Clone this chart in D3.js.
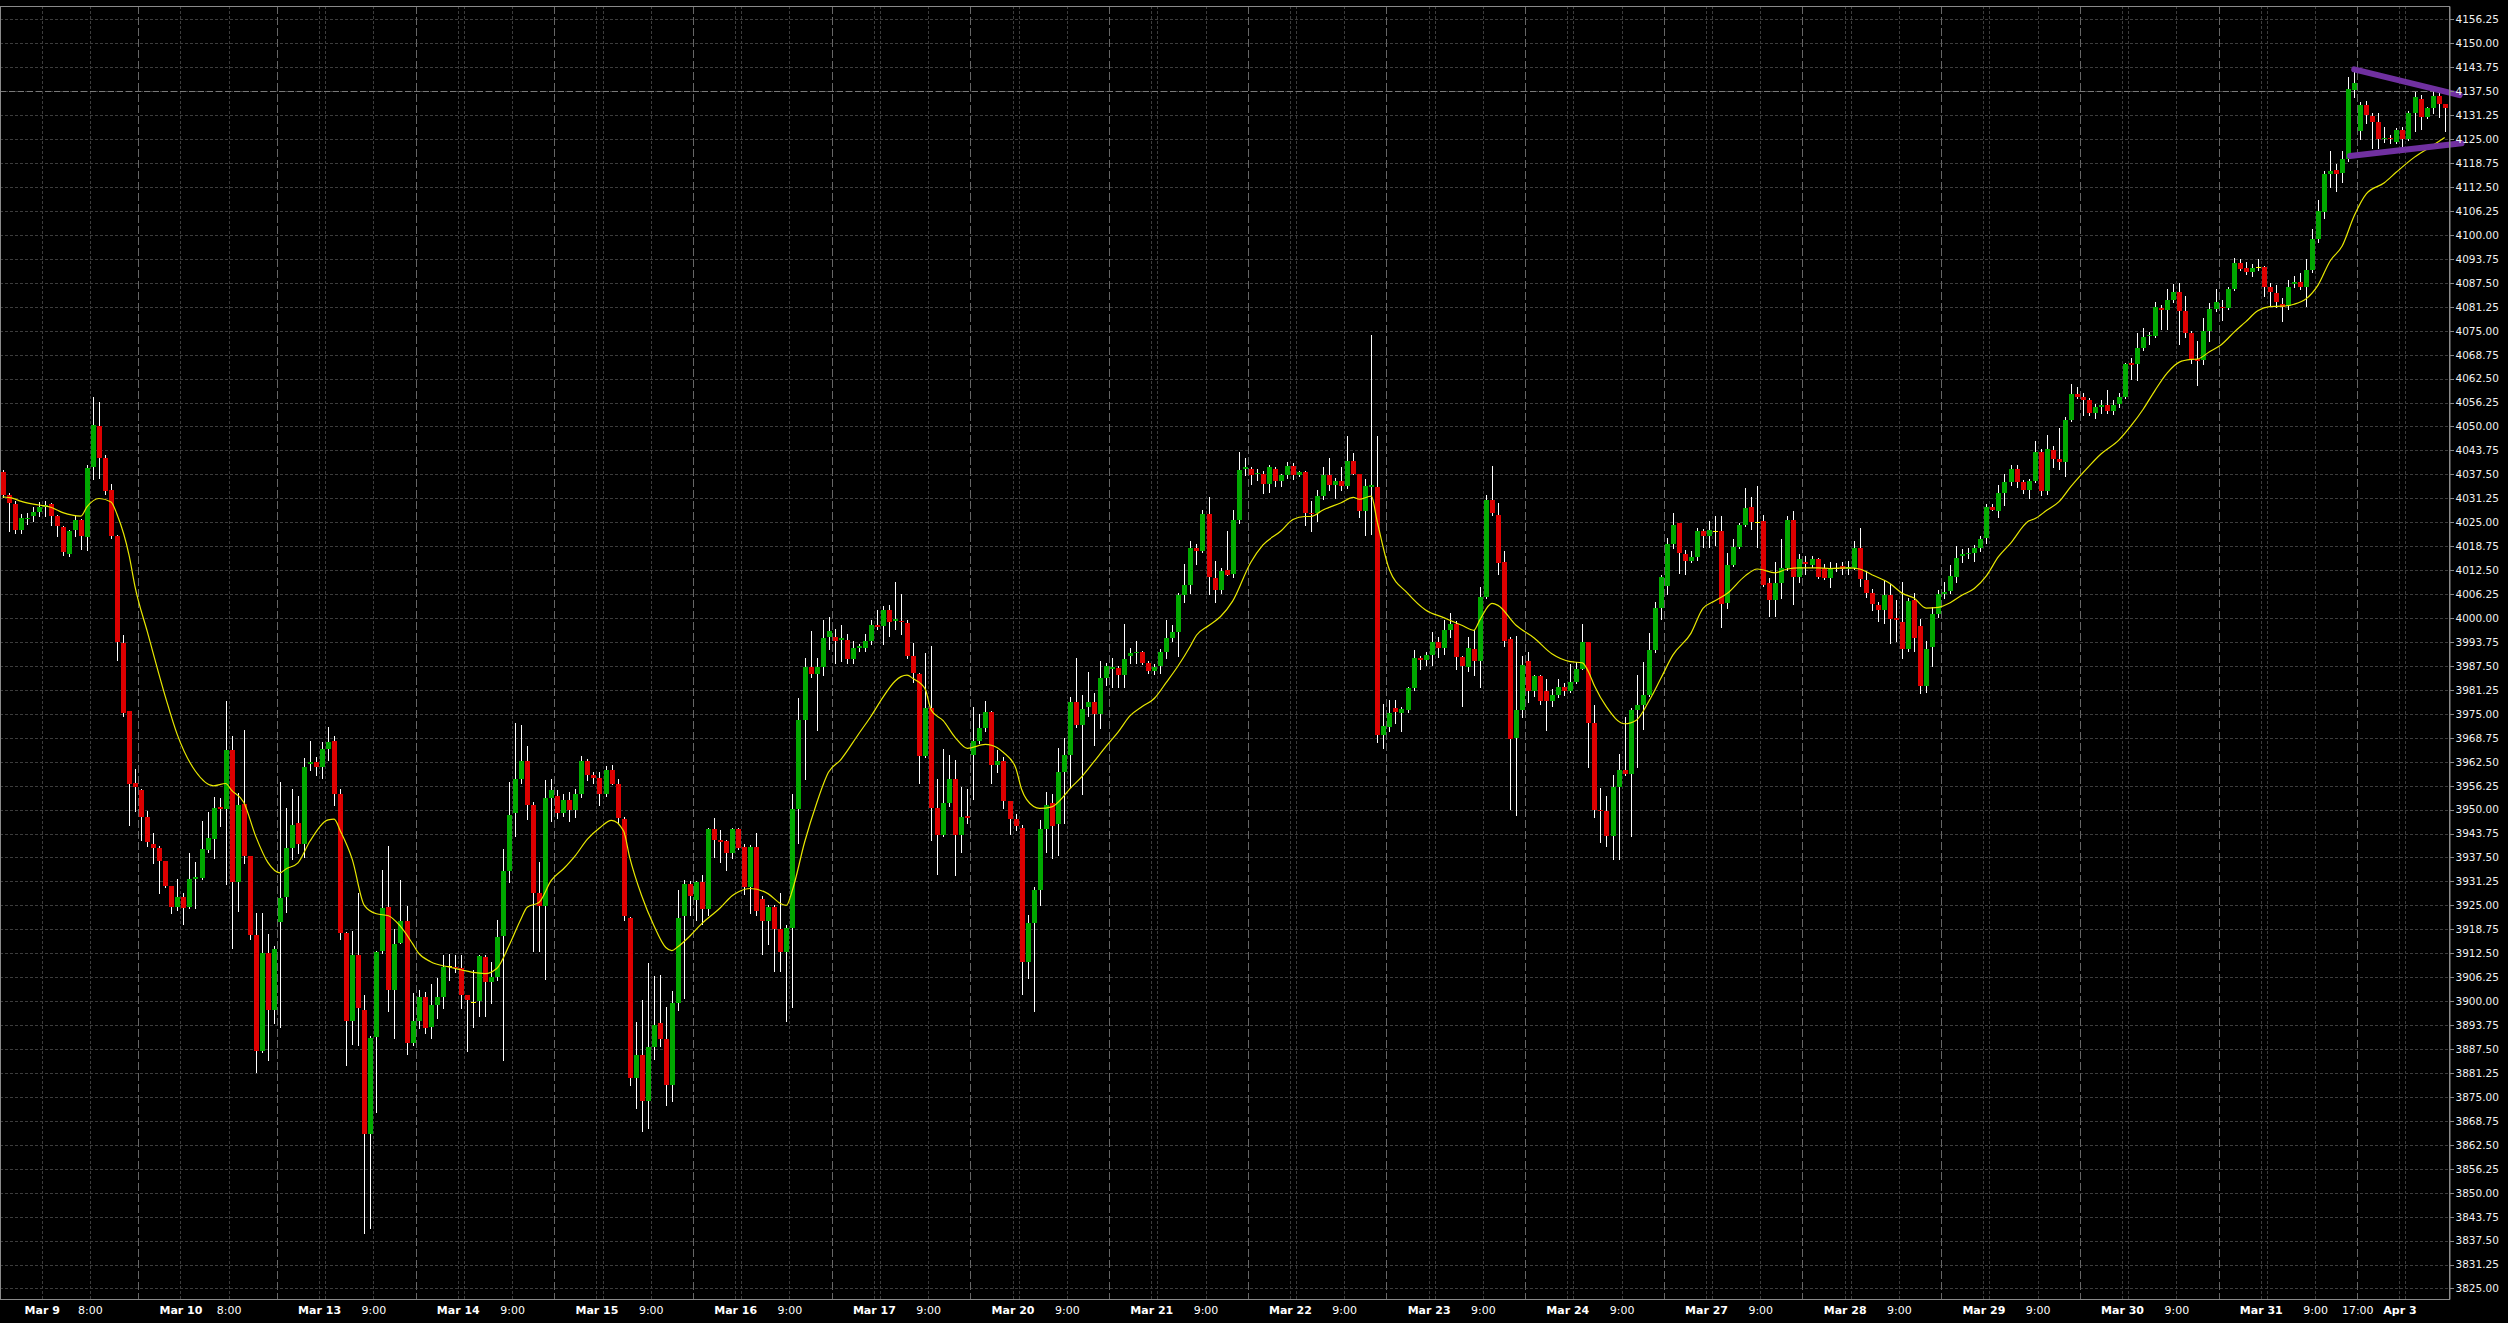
<!DOCTYPE html>
<html><head><meta charset="utf-8">
<script src="https://cdn.jsdelivr.net/npm/d3@7"></script>
<style>
html,body{margin:0;padding:0;background:#000;overflow:hidden;}
svg{display:block;}
</style></head><body>
<svg id="chart" width="2508" height="1323"></svg>
<script>
// ---- DATA (hourly OHLC) ----
const opens = [4038.1,4032.1,4029.8,4023.0,4025.8,4026.5,4027.7,4029.0,4029.8,4026.6,4023.8,4016.7,4022.9,4025.6,4021.1,4039.5,4050.1,4041.8,4033.4,4021.3,3993.4,3975.8,3956.9,3955.0,3948.0,3941.1,3940.0,3936.5,3930.1,3924.6,3927.1,3924.6,3931.8,3932.1,3939.4,3942.3,3950.7,3950.1,3965.5,3931.1,3951.4,3937.8,3917.2,3887.1,3912.5,3897.7,3920.6,3927.1,3940.1,3946.4,3941.1,3962.0,3962.3,3961.2,3965.9,3968.0,3954.0,3917.8,3894.9,3912.0,3897.8,3865.2,3890.6,3913.2,3924.6,3902.9,3915.3,3920.8,3889.2,3894.9,3901.0,3893.2,3899.0,3901.0,3909.1,3909.0,3908.6,3901.5,3899.9,3900.0,3911.6,3905.0,3906.2,3917.0,3934.0,3949.0,3957.9,3962.6,3951.1,3928.2,3924.9,3953.0,3953.6,3949.0,3952.5,3949.8,3954.0,3962.6,3959.0,3958.3,3954.0,3960.4,3956.8,3947.5,3921.8,3880.0,3886.0,3874.0,3888.0,3894.2,3890.2,3878.0,3899.4,3922.2,3930.6,3926.5,3931.0,3924.0,3945.0,3942.0,3941.8,3938.6,3944.9,3940.2,3929.8,3940.2,3926.6,3921.0,3924.5,3918.8,3912.9,3919.1,3950.2,3973.4,3987.3,3985.5,3987.3,3995.0,3995.0,3994.3,3994.3,3989.3,3992.3,3992.3,3994.0,3998.1,3998.0,4002.2,3999.3,3999.3,3998.6,3990.1,3985.5,3964.0,3976.6,3950.4,3943.4,3951.7,3957.9,3943.4,3948.2,3964.2,3968.0,3971.2,3975.4,3961.7,3962.7,3952.3,3947.5,3945.2,3910.2,3920.3,3929.1,3944.9,3951.8,3946.2,3959.7,3964.2,3978.1,3972.0,3976.8,3978.1,3974.9,3984.4,3986.8,3987.0,3985.1,3990.0,3990.8,3991.1,3988.2,3986.3,3987.5,3991.1,3994.8,3996.3,4006.1,4008.6,4018.3,4017.6,4027.2,4010.4,4007.2,4012.5,4011.4,4025.5,4039.0,4038.9,4037.5,4037.5,4035.0,4039.0,4035.7,4037.3,4039.8,4037.3,4038.2,4027.4,4027.3,4031.8,4037.3,4034.8,4035.7,4034.5,4041.0,4037.5,4028.0,4034.2,4034.2,3969.4,3971.5,3976.5,3975.3,3976.0,3981.8,3989.6,3989.1,3990.4,3993.8,3992.1,3997.0,3998.4,3989.8,3987.1,3992.0,3988.8,4005.6,4030.8,4027.0,4014.6,3994.4,3968.6,3976.0,3988.8,3981.0,3984.8,3981.0,3978.3,3980.0,3982.0,3981.0,3983.4,3986.8,3993.8,3972.5,3950.0,3949.7,3943.0,3956.0,3960.4,3959.4,3976.0,3977.3,3980.0,3991.6,4002.5,4008.4,4019.4,4024.7,4016.8,4014.8,4015.8,4022.7,4021.5,4022.8,4022.8,4003.8,4013.8,4018.6,4024.4,4029.0,4025.0,4025.3,4009.1,4004.6,4009.1,4013.0,4025.7,4010.8,4014.5,4013.8,4015.4,4013.0,4010.5,4013.1,4013.6,4012.7,4013.1,4018.4,4009.9,4006.5,4003.3,4002.2,4006.0,3999.9,3999.0,3992.0,4004.8,3997.8,3982.2,3992.4,4001.1,4006.3,4007.0,4010.8,4016.2,4016.6,4017.0,4018.2,4020.8,4029.0,4027.9,4032.7,4035.4,4039.0,4035.6,4033.4,4035.7,4043.3,4033.1,4043.8,4041.5,4040.7,4051.6,4058.4,4057.8,4056.9,4053.5,4055.0,4055.7,4054.1,4055.8,4057.8,4066.6,4066.3,4070.5,4073.6,4073.6,4081.0,4080.5,4083.0,4085.0,4080.2,4074.5,4067.7,4067.4,4075.0,4080.7,4081.3,4081.0,4086.0,4092.6,4091.4,4090.3,4091.5,4091.7,4086.4,4084.8,4082.0,4081.5,4087.2,4087.7,4086.4,4090.9,4098.9,4106.0,4115.9,4117.0,4116.2,4119.8,4137.8,4127.1,4133.9,4131.0,4129.5,4125.0,4125.4,4124.3,4127.4,4125.0,4131.9,4135.6,4130.7,4133.0,4136.3,4134.3];
const highs = [4038.6,4032.7,4030.5,4027.2,4027.5,4028.9,4030.3,4030.6,4030.0,4027.0,4024.0,4023.0,4026.5,4025.8,4039.9,4057.8,4056.5,4042.5,4035.0,4021.6,3995.5,3975.8,3960.5,3955.4,3949.7,3944.0,3940.4,3936.5,3930.1,3931.8,3928.2,3938.7,3936.4,3946.9,3949.3,3953.3,3953.0,3978.4,3969.3,3954.4,3970.8,3937.8,3922.9,3922.9,3917.5,3914.3,3957.2,3950.4,3955.5,3953.6,3963.4,3967.9,3963.6,3967.6,3971.6,3969.3,3955.5,3918.0,3918.2,3928.2,3901.7,3890.9,3913.1,3934.3,3940.4,3918.9,3931.5,3924.9,3902.0,3903.0,3902.5,3904.6,3906.0,3912.1,3912.4,3912.1,3912.1,3901.7,3908.2,3912.1,3912.1,3910.3,3921.1,3939.7,3957.3,3972.6,3972.2,3966.5,3951.9,3936.4,3957.6,3957.9,3955.0,3954.0,3954.7,3955.5,3964.0,3963.3,3959.8,3959.7,3961.5,3961.7,3957.9,3948.0,3922.0,3894.6,3900.3,3910.0,3906.6,3906.9,3898.4,3902.6,3929.0,3931.6,3931.3,3931.3,3932.8,3945.3,3947.7,3944.6,3942.1,3945.3,3945.3,3941.1,3940.8,3943.9,3927.5,3925.0,3925.0,3928.2,3920.0,3954.1,3979.1,3989.5,3996.5,3989.5,3999.6,4000.3,3997.1,3998.1,3995.8,3993.9,3993.3,3995.8,3999.6,4002.2,4003.2,4003.4,4009.5,4006.2,3999.6,3993.6,3985.7,3990.8,3992.7,3957.9,3965.7,3964.2,3962.9,3956.0,3955.3,3976.9,3974.9,3978.4,3975.6,3965.5,3963.6,3952.3,3948.8,3945.9,3922.5,3929.8,3947.4,3954.7,3954.0,3966.1,3968.6,3979.4,3989.5,3980.0,3986.0,3980.4,3988.9,3988.2,3989.5,3987.6,3998.4,3992.3,3993.9,3991.4,3988.9,3988.0,3992.0,3999.6,3998.1,4006.6,4014.2,4020.1,4019.3,4028.1,4031.5,4014.8,4013.0,4022.7,4028.3,4043.3,4041.7,4039.5,4039.0,4038.5,4040.0,4039.3,4037.7,4040.7,4040.5,4038.5,4038.5,4030.5,4033.5,4039.3,4041.7,4036.5,4039.3,4047.5,4043.0,4037.7,4036.3,4074.0,4047.5,3977.5,3978.6,3978.6,3976.8,3982.1,3991.6,3990.1,3991.1,3996.4,3995.1,3999.4,4001.4,3999.1,3990.1,3995.1,3996.8,4008.1,4032.0,4039.7,4030.0,4017.6,3995.1,3995.4,3990.1,3991.1,3985.1,3985.1,3984.1,3981.6,3984.1,3983.1,3988.1,3988.4,3998.4,3993.8,3977.4,3955.6,3953.6,3959.0,3964.6,3974.1,3976.6,3985.1,3988.6,3996.1,4004.1,4011.1,4020.8,4027.3,4024.9,4017.7,4017.5,4023.5,4023.3,4025.3,4026.7,4026.5,4017.1,4020.5,4024.7,4034.0,4031.7,4034.5,4027.0,4010.5,4014.6,4020.7,4026.5,4028.0,4016.6,4016.1,4016.1,4015.6,4014.1,4014.6,4014.3,4014.5,4015.0,4020.1,4023.5,4012.2,4007.7,4004.2,4009.9,4008.8,4004.8,4009.4,4005.3,4006.6,3999.7,3994.1,4002.9,4007.4,4009.4,4013.9,4018.9,4018.0,4018.3,4019.1,4021.4,4029.7,4029.7,4034.8,4037.7,4039.9,4039.9,4036.0,4036.2,4046.2,4044.1,4047.9,4044.8,4049.5,4052.4,4061.1,4060.3,4058.8,4057.5,4055.8,4056.9,4059.5,4056.9,4058.8,4066.5,4067.9,4074.5,4075.6,4074.7,4082.4,4081.8,4085.8,4087.1,4087.5,4084.1,4075.0,4072.2,4078.4,4082.2,4085.8,4083.0,4086.3,4093.9,4093.7,4092.8,4092.5,4093.7,4092.0,4087.5,4086.9,4083.5,4088.1,4089.2,4090.1,4093.7,4101.6,4109.0,4116.7,4121.9,4118.4,4121.9,4141.3,4142.6,4134.8,4134.9,4131.9,4131.9,4128.1,4126.1,4127.8,4128.1,4132.4,4137.4,4136.5,4133.5,4137.6,4137.4,4134.3];
const lows = [4031.5,4022.8,4022.3,4022.3,4024.6,4025.2,4026.6,4026.6,4024.4,4021.3,4016.5,4016.1,4021.5,4017.9,4017.8,4036.3,4036.5,4032.5,4020.8,3989.1,3974.5,3945.9,3949.7,3942.1,3940.4,3936.1,3928.2,3929.7,3922.9,3923.9,3920.1,3924.4,3924.4,3931.8,3939.0,3937.3,3945.8,3930.7,3913.9,3923.5,3936.1,3916.1,3881.4,3886.7,3884.6,3894.3,3893.2,3923.2,3937.1,3938.7,3937.5,3960.2,3959.0,3958.3,3962.9,3951.1,3916.1,3883.4,3888.9,3888.6,3839.5,3840.9,3871.0,3912.5,3897.5,3890.3,3915.3,3886.3,3888.6,3893.0,3891.8,3890.3,3895.7,3898.3,3905.4,3907.5,3898.3,3887.1,3893.3,3896.0,3896.0,3899.6,3905.4,3884.6,3931.1,3943.0,3956.9,3947.6,3913.2,3913.2,3905.8,3946.9,3947.8,3948.3,3946.9,3948.0,3953.3,3957.6,3956.9,3951.1,3953.5,3956.6,3946.5,3921.2,3878.0,3872.0,3866.0,3867.0,3885.0,3888.3,3873.0,3874.0,3897.8,3900.9,3922.5,3921.2,3920.1,3922.5,3937.6,3936.4,3934.1,3937.4,3939.7,3927.9,3923.1,3922.5,3912.4,3914.8,3907.9,3907.9,3894.9,3898.4,3941.4,3958.1,3984.5,3970.8,3985.1,3992.0,3988.2,3988.9,3988.2,3988.2,3991.4,3991.4,3993.3,3997.1,3993.3,3995.2,3997.1,3995.8,3989.5,3983.2,3956.9,3963.6,3942.1,3933.2,3943.1,3951.0,3932.8,3938.9,3946.5,3952.8,3967.4,3970.5,3956.9,3959.8,3950.3,3943.7,3944.6,3901.9,3906.1,3897.4,3925.0,3938.9,3937.4,3938.2,3946.5,3956.0,3971.5,3954.1,3974.3,3966.8,3971.2,3982.6,3981.9,3981.9,3981.9,3988.2,3988.2,3988.0,3985.7,3985.5,3985.7,3989.5,3993.9,3990.2,4004.1,4006.6,4014.2,4017.3,4006.2,4004.1,4006.5,4011.1,4010.8,4024.7,4037.3,4035.0,4036.0,4032.7,4033.0,4034.5,4034.5,4036.5,4036.3,4037.0,4024.3,4022.7,4025.3,4031.0,4033.5,4031.3,4033.3,4034.0,4037.5,4026.3,4021.8,4022.0,3967.6,3966.0,3970.6,3972.6,3970.6,3975.5,3981.1,3986.8,3987.8,3987.8,3989.8,3990.6,3995.1,3986.8,3977.1,3986.1,3985.1,3982.1,4005.1,4027.0,4011.6,3992.6,3950.1,3948.6,3974.1,3978.1,3979.6,3977.6,3970.9,3977.1,3979.4,3979.8,3980.6,3983.0,3986.6,3961.1,3948.1,3941.6,3940.6,3937.1,3937.1,3959.1,3943.1,3961.1,3971.1,3979.6,3991.1,3999.7,4006.4,4018.4,4011.8,4011.4,4014.6,4015.1,4018.5,4018.5,4019.0,3997.6,4002.6,4013.6,4018.4,4024.1,4023.3,4018.5,4008.4,4000.4,4000.4,4005.1,4012.6,4003.6,4009.4,4011.6,4013.4,4010.4,4010.1,4008.1,4012.2,4011.6,4011.6,4012.8,4008.3,4005.4,4002.0,3999.1,3998.8,3993.5,3994.1,3989.5,3991.3,3991.3,3980.5,3980.7,3987.5,4000.3,4005.3,4006.5,4009.4,4014.7,4015.6,4015.0,4017.6,4019.5,4028.1,4026.4,4029.4,4034.8,4034.3,4032.6,4031.4,4035.4,4032.0,4032.4,4039.4,4038.8,4037.1,4051.3,4057.5,4053.0,4053.0,4052.1,4053.6,4053.6,4053.2,4055.0,4057.5,4062.5,4062.2,4069.9,4071.6,4073.3,4075.4,4075.4,4082.6,4071.6,4073.3,4066.5,4060.9,4066.3,4072.2,4080.1,4077.9,4080.7,4085.5,4090.9,4089.8,4089.2,4090.9,4084.1,4081.8,4081.3,4077.6,4080.7,4086.4,4086.0,4081.5,4090.3,4098.2,4104.5,4112.6,4111.5,4113.9,4119.4,4135.9,4125.0,4129.1,4122.6,4122.6,4124.3,4124.1,4123.9,4122.9,4124.8,4127.2,4127.6,4130.4,4131.7,4130.9,4127.2];
const closes = [4032.1,4029.9,4023.0,4026.2,4026.2,4027.7,4029.0,4029.6,4026.6,4024.1,4017.2,4022.7,4025.6,4021.3,4039.2,4050.4,4041.8,4033.2,4021.5,3993.7,3975.1,3956.6,3955.9,3948.0,3941.6,3940.1,3936.5,3930.1,3924.6,3927.1,3924.4,3931.8,3932.5,3939.7,3942.5,3950.4,3950.1,3965.5,3931.1,3951.1,3937.8,3917.2,3887.1,3912.5,3897.7,3913.5,3926.8,3940.1,3946.1,3941.1,3961.2,3962.4,3961.2,3965.9,3967.6,3954.0,3917.8,3894.9,3912.0,3898.2,3865.2,3890.3,3912.8,3924.4,3902.9,3915.0,3920.8,3889.2,3894.9,3901.0,3892.9,3899.0,3901.0,3908.9,3909.1,3908.6,3901.7,3900.3,3899.9,3911.8,3905.0,3906.2,3916.8,3934.0,3948.7,3957.9,3962.6,3951.1,3928.2,3924.9,3953.0,3955.0,3949.0,3952.5,3950.0,3954.0,3962.6,3959.0,3958.3,3954.0,3960.2,3956.8,3947.7,3922.2,3880.0,3886.0,3874.0,3888.0,3893.9,3890.2,3878.0,3899.4,3921.8,3930.6,3927.4,3931.0,3924.0,3945.0,3942.0,3941.6,3938.6,3944.9,3940.0,3929.8,3940.2,3923.6,3921.0,3924.5,3918.8,3912.9,3919.1,3950.2,3973.4,3987.3,3985.5,3987.3,3994.8,3996.5,3994.0,3994.7,3989.3,3992.3,3992.6,3994.0,3998.1,3997.6,4002.2,3999.0,3999.7,3999.0,3990.2,3985.7,3964.0,3976.6,3950.4,3943.4,3951.7,3957.9,3943.4,3948.0,3947.7,3968.0,3971.2,3975.4,3961.7,3962.7,3952.3,3947.5,3945.6,3910.2,3920.3,3929.1,3944.9,3951.2,3945.6,3959.7,3964.2,3978.1,3972.0,3976.2,3978.0,3974.9,3984.4,3987.5,3987.2,3985.1,3989.3,3990.8,3991.1,3988.2,3986.3,3987.2,3991.1,3994.8,3996.3,4006.1,4008.6,4018.3,4017.6,4027.2,4010.8,4007.2,4012.3,4011.3,4025.5,4038.7,4039.4,4037.3,4037.9,4035.0,4039.3,4035.7,4037.3,4039.8,4037.3,4038.0,4027.3,4027.2,4031.8,4037.3,4034.8,4035.7,4034.5,4041.0,4037.7,4028.0,4034.5,4034.6,3969.4,3971.9,3975.2,3975.5,3976.2,3981.8,3989.6,3989.1,3990.4,3993.8,3992.1,3997.0,3998.4,3989.8,3987.4,3992.1,3988.8,4005.6,4030.8,4027.3,4014.4,3994.1,3968.4,3976.0,3987.8,3981.0,3984.8,3978.4,3978.3,3980.0,3982.0,3981.0,3983.4,3986.8,3993.8,3972.5,3950.0,3949.7,3943.0,3956.0,3960.4,3959.4,3976.0,3977.3,3980.0,3991.6,4002.5,4010.8,4019.4,4024.4,4017.0,4014.8,4015.8,4022.7,4021.5,4023.0,4022.8,4003.6,4013.8,4018.6,4024.4,4028.8,4025.0,4025.0,4008.6,4004.6,4009.1,4013.0,4025.7,4010.8,4015.4,4014.2,4015.4,4010.6,4010.5,4012.8,4013.1,4012.7,4013.3,4018.4,4010.1,4006.5,4003.7,4002.2,4006.0,3999.7,3999.6,3992.0,4004.5,3994.9,3982.2,3992.0,4001.1,4006.3,4006.7,4011.0,4015.6,4016.6,4016.9,4018.4,4020.6,4029.0,4028.2,4032.7,4035.4,4039.0,4035.6,4033.4,4035.7,4043.3,4033.1,4044.0,4041.5,4040.7,4051.6,4058.4,4057.8,4056.9,4053.5,4055.0,4055.5,4054.1,4055.7,4057.8,4066.3,4066.0,4070.5,4073.3,4073.8,4081.3,4080.5,4083.0,4085.0,4080.2,4074.5,4067.4,4067.0,4075.0,4080.7,4082.6,4081.0,4086.0,4092.6,4091.1,4090.3,4091.4,4091.5,4086.4,4085.2,4082.4,4081.3,4086.4,4087.7,4086.4,4090.9,4098.9,4106.2,4115.9,4116.7,4115.9,4119.8,4138.1,4139.7,4133.9,4131.3,4129.5,4125.0,4125.4,4125.0,4127.4,4125.0,4131.9,4136.1,4130.7,4133.0,4136.3,4134.3,4133.2];

// moving average (yellow), read at sample bars
const maBars = [0,2,3,6,8,10,13,14,16,18,19,21,22,24,27,29,32,35,37,38,40,42,44,46,47,49,51,54,55,56,58,60,62,64,66,68,69,71,74,76,78,80,82,84,86,87,89,91,93,95,97,99,101,103,104,106,108,110,111,112,114,116,119,121,122,124,127,129,130,131,133,135,137,139,142,144,146,148,149,150,151,153,154,156,158,160,163,164,166,168,169,171,172,174,176,177,179,181,183,185,187,189,191,193,195,197,198,200,202,204,207,209,212,214,216,217,219,222,224,225,227,228,230,233,236,239,242,244,245,247,248,251,254,257,260,262,263,264,266,269,271,273,275,277,280,282,284,286,289,291,294,296,298,301,303,306,308,310,313,315,317,319,321,323,325,327,329,331,333,336,337,339,341,343,346,348,351,353,355,357,359,361,363,364,366,368,370,372,374,376,378,380,382,384,386,388,390,392,395,397,400,403,405];
const maValues = [4031.6,4031.1,4030.5,4029.5,4028.9,4027.5,4026.6,4029.0,4031.2,4030.3,4027.0,4016.3,4008.0,3996.5,3979.5,3969.5,3960.0,3956.2,3956.8,3955.0,3951.9,3943.0,3936.2,3933.5,3934.5,3936.1,3941.8,3947.3,3947.5,3944.5,3937.0,3925.0,3922.8,3922.3,3919.5,3915.0,3912.5,3910.3,3908.9,3908.2,3907.5,3907.2,3908.6,3914.5,3921.5,3924.5,3925.8,3931.5,3934.5,3938.0,3942.3,3945.2,3947.2,3944.4,3937.6,3927.5,3919.8,3914.0,3913.2,3914.2,3917.0,3920.3,3924.3,3927.5,3928.5,3929.4,3928.0,3925.5,3925.0,3929.0,3941.4,3951.6,3959.8,3963.0,3969.8,3974.3,3979.3,3983.5,3984.7,3985.1,3984.2,3981.5,3976.0,3973.2,3968.8,3966.0,3967.0,3966.8,3964.9,3961.0,3955.3,3950.8,3950.3,3950.7,3953.5,3955.4,3958.6,3962.5,3966.5,3970.2,3974.5,3976.9,3979.0,3983.2,3987.6,3992.7,3995.5,3998.0,4000.4,4004.4,4014.5,4019.0,4022.7,4025.7,4026.5,4026.5,4028.2,4030.1,4031.5,4031.0,4031.8,4025.0,4012.6,4006.5,4002.1,4000.1,3998.1,3996.8,3999.5,4003.8,4003.3,3998.1,3994.8,3990.6,3988.6,3988.3,3986.0,3982.3,3976.8,3972.4,3973.4,3978.2,3984.2,3990.3,3996.0,4002.5,4004.5,4006.4,4011.0,4012.8,4011.8,4012.8,4013.1,4013.1,4012.9,4013.1,4012.8,4011.3,4009.0,4006.5,4005.2,4002.6,4002.8,4004.0,4006.0,4007.7,4011.0,4016.0,4019.5,4025.3,4025.9,4028.1,4030.3,4034.3,4039.6,4042.8,4046.5,4050.2,4054.5,4059.5,4064.0,4066.8,4067.5,4067.6,4069.5,4071.4,4074.5,4077.3,4080.2,4081.3,4081.4,4081.9,4083.3,4086.9,4093.2,4097.1,4105.0,4110.7,4113.6,4116.4,4120.3,4123.3,4125.4];

// sessions (23 hourly bars each), x-axis labels
const sessionDates = ["Mar 9","Mar 10","Mar 13","Mar 14","Mar 15","Mar 16","Mar 17","Mar 20","Mar 21","Mar 22","Mar 23","Mar 24","Mar 27","Mar 28","Mar 29","Mar 30","Mar 31","Apr 3"];
const sessionTimes = ["8:00","8:00","9:00","9:00","9:00","9:00","9:00","9:00","9:00","9:00","9:00","9:00","9:00","9:00","9:00","9:00","9:00",null];
const sessionOpenLabel = "17:00";
const barsPerSession = 23;

// price axis ticks
const priceTicks = [3825,3831.25,3837.5,3843.75,3850,3856.25,3862.5,3868.75,3875,3881.25,3887.5,3893.75,3900,3906.25,3912.5,3918.75,3925,3931.25,3937.5,3943.75,3950,3956.25,3962.5,3968.75,3975,3981.25,3987.5,3993.75,4000,4006.25,4012.5,4018.75,4025,4031.25,4037.5,4043.75,4050,4056.25,4062.5,4068.75,4075,4081.25,4087.5,4093.75,4100,4106.25,4112.5,4118.75,4125,4131.25,4137.5,4143.75,4150,4156.25];

// drawn objects
const hLinePrice = 4137.5;
const trendUpper = [[390.0, 4143.2],[407.5, 4136.5]];
const trendLower = [[389.3, 4120.6],[407.8, 4123.9]];

// ---- LAYOUT ----
const W = 2508, H = 1323;
const plotL = 0, plotT = 6, plotR = 2449, plotB = 1299;
const nBars = closes.length;
const step = 6.03;

const svg = d3.select("#chart");
svg.append("rect").attr("width", W).attr("height", H).attr("fill", "#000");

const x = d3.scaleLinear().domain([-0.5, nBars - 0.5]).range([-0.5, -0.5 + nBars * step]);
const y = d3.scaleLinear().domain([3822.25, 4159.75]).range([plotB, plotT]);

const clip = svg.append("defs").append("clipPath").attr("id", "plotclip")
  .append("rect").attr("x", plotL).attr("y", plotT).attr("width", plotR - plotL).attr("height", plotB - plotT);

const gGrid = svg.append("g").attr("shape-rendering", "crispEdges");
// horizontal grid
gGrid.selectAll("line.hg").data(priceTicks).join("line")
  .attr("x1", plotL).attr("x2", plotR)
  .attr("y1", d => Math.round(y(d)) + 0.5).attr("y2", d => Math.round(y(d)) + 0.5)
  .attr("stroke", "#3c3c3c").attr("stroke-dasharray", "3,2");

// vertical grid (date / time positions inside every session)
const vGrid = [];
sessionDates.forEach((d, k) => {
  const s = k * barsPerSession;
  vGrid.push(s + 7);
  if (k >= 2) vGrid.push(s + 8);
  if (sessionTimes[k]) vGrid.push(s + (k < 2 ? 15 : 16));
});
gGrid.selectAll("line.vg").data(vGrid).join("line")
  .attr("x1", d => Math.round(x(d - 0.5)) + 0.5).attr("x2", d => Math.round(x(d - 0.5)) + 0.5)
  .attr("y1", plotT).attr("y2", plotB)
  .attr("stroke", "#3c3c3c").attr("stroke-dasharray", "3,2");

// session separators
const seps = d3.range(1, sessionDates.length).map(k => k * barsPerSession);
gGrid.selectAll("line.sep").data(seps).join("line")
  .attr("x1", d => Math.round(x(d - 0.5)) + 0.5).attr("x2", d => Math.round(x(d - 0.5)) + 0.5)
  .attr("y1", plotT).attr("y2", plotB)
  .attr("stroke", "#666").attr("stroke-dasharray", "8,3");

// horizontal line object
gGrid.append("line")
  .attr("x1", plotL).attr("x2", plotR)
  .attr("y1", Math.round(y(hLinePrice)) + 0.5).attr("y2", Math.round(y(hLinePrice)) + 0.5)
  .attr("stroke", "#7a7a7a").attr("stroke-dasharray", "6,3");

// ---- CANDLES ----
const bars = closes.map((c, i) => ({i, o: opens[i], h: highs[i], l: lows[i], c}));
const gC = svg.append("g").attr("clip-path", "url(#plotclip)").attr("shape-rendering", "crispEdges");
gC.selectAll("line.wick").data(bars).join("line")
  .attr("x1", d => Math.round(x(d.i)) + 0.5).attr("x2", d => Math.round(x(d.i)) + 0.5)
  .attr("y1", d => Math.round(y(d.h))).attr("y2", d => Math.round(y(d.l)) + 1)
  .attr("stroke", "#ffffff").attr("stroke-width", 1);
gC.selectAll("rect.body").data(bars).join("rect")
  .attr("x", d => Math.round(x(d.i)) - 2)
  .attr("width", 5)
  .attr("y", d => Math.round(y(Math.max(d.o, d.c))))
  .attr("height", d => Math.max(1, Math.round(y(Math.min(d.o, d.c))) - Math.round(y(Math.max(d.o, d.c)))))
  .attr("fill", d => d.c > d.o ? "#00a800" : (d.c < d.o ? "#dd0000" : "#ffff00"));

// ---- MOVING AVERAGE ----
const maPts = maBars.map((b, k) => [b, maValues[k]]);
svg.append("path").attr("clip-path", "url(#plotclip)")
  .datum(maPts)
  .attr("d", d3.line().x(d => x(d[0])).y(d => y(d[1])).curve(d3.curveMonotoneX))
  .attr("fill", "none").attr("stroke", "#e8e800").attr("stroke-width", 1.2);

// ---- TRENDLINES ----
[trendUpper, trendLower].forEach(t => {
  svg.append("path").datum(t)
    .attr("d", d3.line().x(d => x(d[0])).y(d => y(d[1])))
    .attr("fill", "none").attr("stroke", "#7030a0").attr("stroke-width", 6)
    .attr("stroke-linecap", "round");
});

// ---- FRAME & AXES ----
svg.append("rect").attr("x", plotL + 0.5).attr("y", plotT + 0.5)
  .attr("width", plotR - plotL).attr("height", plotB - plotT)
  .attr("fill", "none").attr("stroke", "#8a8a8a").attr("shape-rendering", "crispEdges");

const yAxis = d3.axisRight(y).tickValues(priceTicks).tickFormat(d => d.toFixed(2))
  .tickSize(4).tickSizeOuter(0).tickPadding(2);
const gY = svg.append("g").attr("transform", `translate(${plotR + 0.5},0)`).call(yAxis);
gY.select(".domain").attr("stroke", "#8a8a8a");
gY.selectAll(".tick line").attr("stroke", "#8a8a8a").attr("shape-rendering", "crispEdges");
gY.selectAll(".tick text").attr("fill", "#f0f0f0")
  .attr("font-family", "'DejaVu Sans', sans-serif").attr("font-size", "10.5px");

// x-axis labels
const dateTicks = sessionDates.map((d, k) => k * barsPerSession + 6.5);
const xDate = d3.axisBottom(x).tickValues(dateTicks).tickFormat((d, k) => sessionDates[k]).tickSize(0).tickPadding(7);
const gXD = svg.append("g").attr("transform", `translate(0,${plotB})`).call(xDate);
gXD.select(".domain").remove();
gXD.selectAll(".tick text").attr("fill", "#ffffff").attr("font-weight", "bold")
  .attr("font-family", "'DejaVu Sans', sans-serif").attr("font-size", "11px");

const timeIdx = [], timeTxt = [];
sessionTimes.forEach((t, k) => {
  if (t) { timeIdx.push(k * barsPerSession + (k < 2 ? 15 : 16) - 0.5); timeTxt.push(t); }
});
timeIdx.push((sessionDates.length - 1) * barsPerSession - 0.5); timeTxt.push(sessionOpenLabel);
const xTime = d3.axisBottom(x).tickValues(timeIdx).tickFormat((d, k) => timeTxt[k]).tickSize(0).tickPadding(7);
const gXT = svg.append("g").attr("transform", `translate(0,${plotB})`).call(xTime);
gXT.select(".domain").remove();
gXT.selectAll(".tick text").attr("fill", "#ffffff")
  .attr("font-family", "'DejaVu Sans', sans-serif").attr("font-size", "11px");
</script>
</body></html>
